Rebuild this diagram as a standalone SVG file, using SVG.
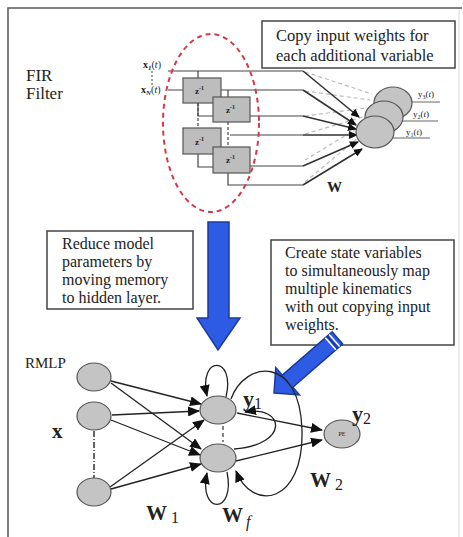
<svg xmlns="http://www.w3.org/2000/svg" width="463" height="537" viewBox="0 0 463 537">
<defs>
<style>
.t{font-family:"Liberation Serif","Times New Roman",Times,serif;fill:#222;}
.box{fill:#fff;stroke:#444;stroke-width:1.5;}
.z{fill:#bdbdbd;stroke:#555;stroke-width:1.2;}
.node{fill:#c4c4c4;stroke:#555;stroke-width:1.2;}
.ln{fill:none;stroke:#444;stroke-width:1.2;}
.ar{fill:none;stroke:#222;stroke-width:1.3;marker-end:url(#ah);}
.fa{fill:none;stroke:#333;stroke-width:1.6;marker-end:url(#ahs);}
.gd{fill:none;stroke:#bbb;stroke-width:1.2;stroke-dasharray:4 3;}
.blue{fill:#2d5be3;stroke:#1b3a9c;stroke-width:1.5;}
</style>
<marker id="ah" markerWidth="12" markerHeight="10" refX="11" refY="5" orient="auto" markerUnits="userSpaceOnUse">
<path d="M0,0 L12,5 L0,10 Z" fill="#111"/>
</marker>
<marker id="ahs" markerWidth="9" markerHeight="8" refX="8" refY="4" orient="auto" markerUnits="userSpaceOnUse">
<path d="M0,0 L9,4 L0,8 Z" fill="#111"/>
</marker>
</defs>
<rect width="463" height="537" fill="#fff"/>
<path d="M8,537 V8 H462" fill="none" stroke="#555" stroke-width="1.5"/>
<line x1="459" y1="10" x2="459" y2="537" stroke="#e4e4e4" stroke-width="1.5"/>

<g id="fir-label">
<text class="t" x="26" y="81" font-size="17">FIR</text>
<text class="t" x="26" y="99" font-size="17">Filter</text>
</g>

<g id="copy-box">
<rect class="box" x="262" y="21" width="193" height="47"/>
<text class="t" x="276" y="41" font-size="16.5">Copy input weights for</text>
<text class="t" x="276" y="61" font-size="16.5">each additional variable</text>
</g>

<g id="fir-inputs">
<text class="t" x="143" y="68" font-size="10" font-weight="bold">x<tspan font-size="7" font-style="italic" dy="2">1</tspan><tspan dy="-2" font-weight="normal">(<tspan font-style="italic">t</tspan>)</tspan></text>
<text class="t" x="141" y="93" font-size="10" font-weight="bold">x<tspan font-size="7" font-style="italic" dy="2">N</tspan><tspan dy="-2" font-weight="normal">(<tspan font-style="italic">t</tspan>)</tspan></text>
<line x1="152" y1="71" x2="152" y2="85" stroke="#444" stroke-width="1" stroke-dasharray="2 2"/>
</g>

<g id="fir-lines">
<path class="ln" d="M168,71 H303 M198,71 V78"/>
<path class="ln" d="M168,90 H183 M221,90 H303 M228,90 V97"/>
<path class="ln" d="M198,103 V116 H213 M250,116 H303"/>
<path class="ln" d="M228,122 V147" stroke-dasharray="3 2"/>
<path class="ln" d="M198,103 V128" stroke-dasharray="3 2"/>
<path class="ln" d="M230,135 H303"/>
<path class="ln" d="M198,154 V167 H213 M250,166 H303"/>
<path class="ln" d="M228,173 V185 H303"/>
</g>

<g id="delays">
<rect class="z" x="183" y="78" width="38" height="25"/>
<rect class="z" x="213" y="97" width="37" height="25"/>
<rect class="z" x="183" y="128" width="38" height="26"/>
<rect class="z" x="213" y="147" width="37" height="26"/>
<text class="t" x="195" y="94" font-size="9" font-weight="bold">z<tspan font-size="6" dy="-4">-1</tspan></text>
<text class="t" x="226" y="113" font-size="9" font-weight="bold">z<tspan font-size="6" dy="-4">-1</tspan></text>
<text class="t" x="195" y="145" font-size="9" font-weight="bold">z<tspan font-size="6" dy="-4">-1</tspan></text>
<text class="t" x="226" y="163" font-size="9" font-weight="bold">z<tspan font-size="6" dy="-4">-1</tspan></text>
</g>

<ellipse id="memory-ellipse" cx="211" cy="123" rx="48" ry="89" fill="none" stroke="#d23a4a" stroke-width="2" stroke-dasharray="5 4"/>

<g id="fir-connectors">
<path class="gd" d="M305,72 L372,94 M305,91 L370,100 M305,116 L366,108 M305,134 L366,116 M305,160 L368,122 M305,182 L370,128"/>
<path class="fa" d="M303,71 L359,117"/>
<path class="fa" d="M303,90 L356,125"/>
<path class="fa" d="M303,116 L356,129"/>
<path class="fa" d="M303,135 L357,135"/>
<path class="fa" d="M303,166 L358,142"/>
<path class="fa" d="M303,185 L362,149"/>
</g>

<g id="fir-outputs">
<line x1="405" y1="102" x2="440" y2="102" stroke="#666"/>
<line x1="400" y1="121" x2="438" y2="121" stroke="#666"/>
<line x1="392" y1="138" x2="430" y2="138" stroke="#666"/>
<ellipse class="node" cx="393" cy="103" rx="19" ry="16"/>
<ellipse class="node" cx="384" cy="117" rx="19" ry="16"/>
<ellipse class="node" cx="375" cy="132" rx="19" ry="16"/>
<text class="t" x="418" y="97" font-size="9" fill="#555">y<tspan font-size="6" dy="2">3</tspan><tspan dy="-2">(<tspan font-style="italic">t</tspan>)</tspan></text>
<text class="t" x="413" y="117" font-size="9" fill="#555">y<tspan font-size="6" dy="2">2</tspan><tspan dy="-2">(<tspan font-style="italic">t</tspan>)</tspan></text>
<text class="t" x="406" y="135" font-size="9" fill="#555">y<tspan font-size="6" dy="2">1</tspan><tspan dy="-2">(<tspan font-style="italic">t</tspan>)</tspan></text>
<text class="t" x="327" y="192" font-size="15" font-weight="bold">W</text>
</g>

<g id="down-arrow">
<path class="blue" d="M208,222 H229 V318 H240 L218,350 L197,318 H208 Z"/>
</g>

<g id="reduce-box">
<rect class="box" x="47" y="231" width="146" height="78"/>
<text class="t" x="62" y="249" font-size="16">Reduce model</text>
<text class="t" x="62" y="267" font-size="16">parameters by</text>
<text class="t" x="62" y="285" font-size="16">moving memory</text>
<text class="t" x="62" y="303" font-size="16">to hidden layer.</text>
</g>

<g id="create-box">
<rect class="box" x="271" y="240" width="183" height="105"/>
<text class="t" x="285" y="258" font-size="16">Create state variables</text>
<text class="t" x="285" y="276" font-size="16">to simultaneously map</text>
<text class="t" x="285" y="294" font-size="16">multiple kinematics</text>
<text class="t" x="285" y="312" font-size="16">with out copying input</text>
<text class="t" x="285" y="330" font-size="16">weights.</text>
</g>

<g id="diag-arrow" transform="translate(274,393) rotate(139)">
<path class="blue" d="M0,0 L-18,-18 V-8 H-84 V8 H-18 V18 Z"/>
<path d="M-80,-8 V8 M-75,-8 V8" stroke="#fff" stroke-width="1.5"/>
<path d="M-77.5,-8 V8" stroke="#1b3a9c" stroke-width="2"/>
</g>

<g id="rmlp-label">
<text class="t" x="25" y="368" font-size="15">RMLP</text>
<text class="t" x="52" y="438" font-size="21" font-weight="bold">x</text>
</g>

<g id="connectors">
<line x1="94" y1="431" x2="94" y2="478" stroke="#333" stroke-width="1.5" stroke-dasharray="6 2 1 2"/>
<line x1="223" y1="426" x2="223" y2="442" stroke="#333" stroke-width="1.2" stroke-dasharray="4 3"/>
<path class="ar" d="M111,381 L201,404"/>
<path class="ar" d="M111,383 L201,449"/>
<path class="ar" d="M112,415 L199,411"/>
<path class="ar" d="M111,420 L200,455"/>
<path class="ar" d="M110,487 L204,420"/>
<path class="ar" d="M111,489 L201,464"/>
<path class="ar" d="M226,397 C236,355 198,355 207,396"/>
<path class="ar" d="M227,472 C236,515 198,515 207,473"/>
<path class="ar" d="M231,399 C245,360 300,355 302,430 C304,505 252,512 236,471"/>
<path class="ar" d="M234,449 C290,445 285,405 245,412"/>
<path class="ar" d="M237,413 L322,430"/>
<path class="ar" d="M236,461 L322,440"/>
</g>

<g id="input-nodes">
<ellipse class="node" cx="94" cy="377" rx="17" ry="14"/>
<ellipse class="node" cx="94" cy="416" rx="17" ry="14"/>
<ellipse class="node" cx="94" cy="492" rx="17" ry="14"/>
</g>

<g id="hidden-nodes">
<ellipse class="node" cx="218" cy="410" rx="18" ry="14"/>
<ellipse class="node" cx="218" cy="458" rx="18" ry="14"/>
</g>

<g id="pe-node">
<ellipse class="node" cx="342" cy="434" rx="18" ry="14"/>
<text class="t" x="342" y="436" font-size="6" text-anchor="middle" fill="#555">PE</text>
</g>

<g id="labels">
<text class="t" x="243" y="406" font-size="22" font-weight="bold">y<tspan font-size="16" font-weight="normal" dy="3">1</tspan></text>
<text class="t" x="352" y="421" font-size="22" font-weight="bold">y<tspan font-size="16" font-weight="normal" dy="3">2</tspan></text>
<text class="t" x="310" y="487" font-size="21" font-weight="bold">W<tspan font-size="16" font-weight="normal" dx="4" dy="3">2</tspan></text>
<text class="t" x="146" y="520" font-size="21" font-weight="bold">W<tspan font-size="16" font-weight="normal" dx="4" dy="3">1</tspan></text>
<text class="t" x="222" y="522" font-size="21" font-weight="bold">W<tspan font-size="16" font-weight="normal" font-style="italic" dx="3" dy="5">f</tspan></text>
</g>
</svg>
